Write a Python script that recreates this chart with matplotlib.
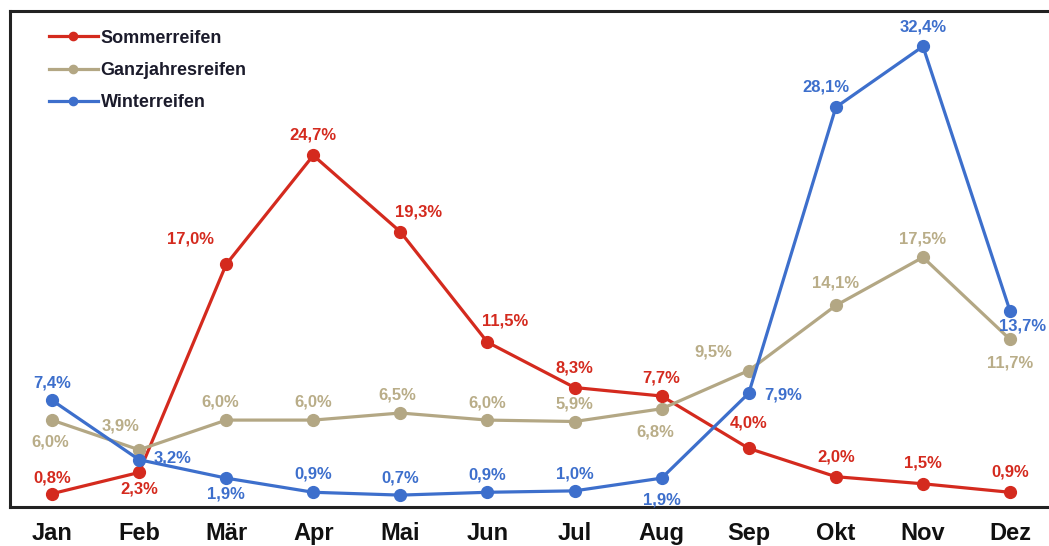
import matplotlib.pyplot as plt

plt.rcParams['font.family'] = ['Liberation Sans', 'DejaVu Sans']

monate = ["Jan", "Feb", "Mär", "Apr", "Mai", "Jun", "Jul", "Aug", "Sep", "Okt", "Nov", "Dez"]
sommer = [0.8, 2.3, 17.0, 24.7, 19.3, 11.5, 8.3, 7.7, 4.0, 2.0, 1.5, 0.9]
ganzjahr = [6.0, 3.9, 6.0, 6.0, 6.5, 6.0, 5.9, 6.8, 9.5, 14.1, 17.5, 11.7]
winter = [7.4, 3.2, 1.9, 0.9, 0.7, 0.9, 1.0, 1.9, 7.9, 28.1, 32.4, 13.7]

# label offsets in pixels (dx, dy)
off_sommer = [(0, 16), (0, -17), (-36, 25), (0, 20), (18, 20), (18, 21),
              (0, 20), (0, 18), (0, 25), (0, 20), (0, 21), (0, 20)]
off_ganz = [(-2, -22), (-19, 24), (-6, 18), (0, 18), (-3, 18), (0, 17),
            (0, 18), (-6, -23), (-35, 19), (0, 22), (0, 18), (0, -24)]
off_winter = [(0, 17), (33, 2), (0, -16), (0, 18), (0, 17), (0, 17),
              (0, 17), (0, -22), (34, -2), (-10, 20), (0, 19), (12, -15)]

rot = "#d42a1e"
beige = "#b3a784"
beige_txt = "#b9ad88"
blau = "#3d6fcc"

fig = plt.figure(figsize=(10.49, 5.46), dpi=100)
ax = fig.add_axes([10 / 1049, 1 - 507 / 546, 1 - 10 / 1049, 496 / 546])

x = list(range(len(monate)))
reihen = [
    ("Sommerreifen", sommer, rot, rot, off_sommer),
    ("Ganzjahresreifen", ganzjahr, beige, beige_txt, off_ganz),
    ("Winterreifen", winter, blau, blau, off_winter),
]
for name, werte, farbe, tfarbe, offs in reihen:
    ax.plot(x, werte, color=farbe, lw=2.3, marker="o", ms=8.5, label=name)
    for xi, v, (dx, dy) in zip(x, werte, offs):
        ax.annotate(f"{v:.1f}%".replace(".", ","), (xi, v), xytext=(dx, dy),
                    textcoords="offset pixels", ha="center", va="center",
                    color=tfarbe, fontsize=12, fontweight="bold")

ax.set_xlim(-0.482, 11.447)
ax.set_ylim(-0.14, 34.9)
ax.set_yticks([])
ax.set_xticks(x)
ax.set_xticklabels(monate, fontsize=17, fontweight="bold", color="#111111")
ax.tick_params(axis="x", length=0, pad=11)
ax.spines["right"].set_visible(False)
for s in ["left", "top", "bottom"]:
    ax.spines[s].set_linewidth(2.2)
    ax.spines[s].set_color("#222222")

leg = ax.legend(loc="upper left", bbox_to_anchor=(0.022, 0.995), frameon=False,
                prop={"weight": "bold", "size": 13}, handlelength=2.7,
                handletextpad=0.15, labelspacing=0.85, markerscale=0.7)
for t in leg.get_texts():
    t.set_color("#1b1b2b")

fig.savefig("out.png", dpi=100)
